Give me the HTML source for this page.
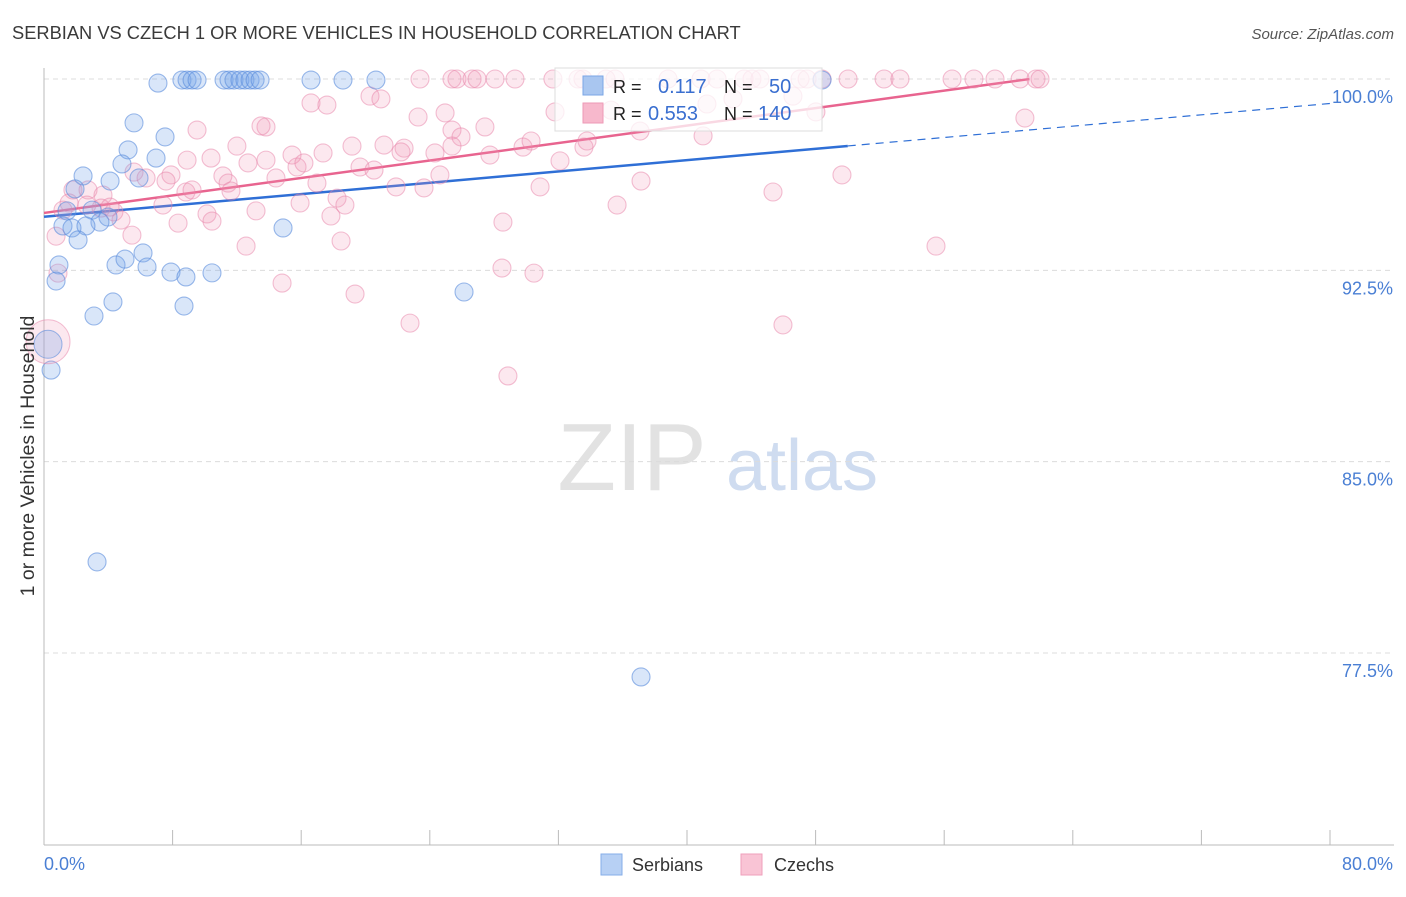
<!DOCTYPE html>
<html><head><meta charset="utf-8"><style>
body{margin:0;background:#fff;font-family:"Liberation Sans",sans-serif;}
svg text{font-family:"Liberation Sans",sans-serif;}
</style></head><body>
<svg id="chart" width="1406" height="892" xmlns="http://www.w3.org/2000/svg">
<text x="12" y="39" font-size="18.3" fill="#3a3a3a">SERBIAN VS CZECH 1 OR MORE VEHICLES IN HOUSEHOLD CORRELATION CHART</text>
<text x="1394" y="39" font-size="15" fill="#555" font-style="italic" text-anchor="end">Source: ZipAtlas.com</text>
<g>
<text x="632" y="490" font-size="96" fill="#e2e2e2" text-anchor="middle" font-family="Liberation Serif,serif">ZIP</text>
<text x="802" y="490" font-size="72" fill="#cfdcf0" text-anchor="middle">atlas</text>
</g>
<g id="grid"></g>
<g id="axes"></g>
<g id="lines"></g>
<g id="points"></g>
<text transform="translate(34,456) rotate(-90)" font-size="19.5" fill="#333" text-anchor="middle">1 or more Vehicles in Household</text>
<text x="44" y="870" font-size="18" fill="#4a7fd4">0.0%</text>
<text x="1393" y="870" font-size="18" fill="#4a7fd4" text-anchor="end">80.0%</text>
<g>
<rect x="555" y="68" width="267" height="63" fill="#fff" fill-opacity="0.75" stroke="#ddd"/>
<rect x="583" y="76" width="20" height="19" fill="#a9c6f0" stroke="#7aa6e6"/>
<rect x="583" y="103" width="20" height="20" fill="#f7b8cc" stroke="#ee99b6"/>
<text x="613" y="93" font-size="18" fill="#222">R =</text>
<text x="658" y="93" font-size="20" fill="#3a6fd0">0.117</text>
<text x="724" y="93" font-size="18" fill="#222">N =</text>
<text x="769" y="93" font-size="20" fill="#3a6fd0">50</text>
<text x="613" y="120" font-size="18" fill="#222">R =</text>
<text x="648" y="120" font-size="20" fill="#3a6fd0">0.553</text>
<text x="724" y="120" font-size="18" fill="#222">N =</text>
<text x="758" y="120" font-size="20" fill="#3a6fd0">140</text>
</g>
<g>
<rect x="601" y="854" width="21" height="21" fill="#b7d0f4" stroke="#86aee8"/>
<text x="632" y="871" font-size="18" fill="#333">Serbians</text>
<rect x="741" y="854" width="21" height="21" fill="#f9c4d5" stroke="#ef9fbb"/>
<text x="774" y="871" font-size="18" fill="#333">Czechs</text>
</g>
</svg>
<script>
const yTicks=[100,92.5,85,77.5];
const yTickLabels=["100.0%","92.5%","85.0%","77.5%"];
const xTicks=[0,10,20,30,40,50,60,70,80,90,100].map(i=>i*0.8);
const serbX=[7.09,8.58,8.90,9.21,9.52,11.2,11.51,11.82,12.19,12.5,12.82,13.13,13.44,16.61,18.6,20.65,48.4,5.6,7.53,5.23,6.97,4.85,2.43,4.11,5.91,1.93,1.43,2.99,3.98,3.48,1.18,1.74,2.61,2.12,0.93,0.75,4.48,5.04,6.16,6.41,7.9,8.83,10.45,14.87,8.71,3.11,4.29,26.13,0.44,3.3,37.14];
const serbY=[99.84,99.96,99.96,99.96,99.96,99.96,99.96,99.96,99.96,99.96,99.96,99.96,99.96,99.96,99.96,99.96,99.96,98.28,97.73,97.22,96.9,96.67,96.2,96.0,96.12,95.69,94.83,94.86,94.59,94.39,94.24,94.16,94.24,93.69,92.71,92.08,92.71,92.94,93.18,92.63,92.43,92.24,92.4,94.16,91.1,90.71,91.26,91.65,88.59,81.07,76.56];
const czX=[23.39,25.38,25.69,26.63,26.94,28.06,29.3,31.66,33.22,33.53,34.96,35.52,38.82,40.87,41.87,43.55,44.04,44.54,47.03,47.47,48.4,50.02,52.26,53.25,56.49,57.85,59.16,60.72,61.71,61.96,
16.61,17.6,20.28,20.96,23.27,24.95,25.38,25.94,27.43,31.79,35.27,41.24,42.86,46.59,48.02,61.02,9.52,13.81,13.5,12.0,10.39,8.9,12.69,15.43,17.36,19.16,21.15,22.4,22.21,24.32,25.38,27.74,29.8,30.3,32.1,33.59,33.78,37.08,41.0,
5.6,6.35,7.9,7.59,8.83,9.21,11.13,11.45,13.81,14.43,15.74,16.17,16.98,19.66,20.53,21.9,23.64,24.63,30.86,37.14,45.35,49.64,1.8,2.74,3.67,2.67,3.55,1.56,1.18,4.35,4.79,4.11,5.47,7.4,8.34,10.14,10.45,11.63,13.19,15.93,17.85,18.23,18.72,18.48,12.57,14.81,19.35,22.77,28.55,28.49,30.48,28.86,35.65,45.97,55.49,0.87,0.75];
const czY=[100,100,100,100,100,100,100,100,100,100,100,100,100,100,100,100,100,100,100,100,100,100,100,100,100,100,100,100,100,100,
99.06,98.98,99.33,99.22,98.51,98.67,98.0,97.73,98.12,98.71,98.78,99.02,99.22,99.33,98.71,98.47,98.0,98.12,98.16,97.37,96.9,96.82,96.71,97.02,97.1,97.37,97.41,97.29,97.14,97.1,97.37,97.02,97.33,97.57,96.79,97.33,97.57,97.96,97.77,
96.35,96.12,96.24,96.0,95.57,95.65,96.2,95.92,96.82,96.12,96.55,96.71,95.92,96.55,96.43,95.77,95.73,96.24,95.77,96.0,95.57,96.24,95.65,95.65,95.45,95.06,94.94,95.14,94.86,94.79,94.47,94.98,93.88,95.06,94.35,94.71,94.43,95.61,94.83,95.14,94.63,95.33,95.06,93.65,93.45,92.0,91.57,90.43,94.39,92.59,92.39,88.36,95.06,90.36,93.45,92.39,93.84];
const serbTrend=[94.6,0.0555,50.0];
const czTrend=[94.75,0.0856,61.3];
const X=v=>44+v*16.075, Y=v=>79+(100-v)*25.51;
const NS="http://www.w3.org/2000/svg";
function mk(tag,attrs,parent){const e=document.createElementNS(NS,tag);for(const k in attrs)e.setAttribute(k,attrs[k]);document.getElementById(parent).appendChild(e);return e;}
yTicks.forEach((t,i)=>{
 const g=mk('line',{x1:44,x2:1394,y1:Y(t),y2:Y(t),stroke:'#dcdcdc','stroke-dasharray':'5,4'},'grid');
 
 
 const l=mk('text',{x:1393,y:Y(t)+24,'font-size':18,fill:'#4a7fd4','text-anchor':'end'},'grid');
 l.textContent=yTickLabels[i];
 
 
});
const ax=mk('line',{x1:44,x2:44,y1:68,y2:845,stroke:'#bbb'},'axes');


const bx=mk('line',{x1:44,x2:1394,y1:845,y2:845,stroke:'#bbb'},'axes');


xTicks.forEach(t=>{const tk=mk('line',{x1:X(t),x2:X(t),y1:830,y2:845,stroke:'#bbb'},'axes');
 
 });
function trend(tr,color,name,dash){
 const s=mk('line',{x1:X(0),y1:Y(tr[0]),x2:X(tr[2]),y2:Y(tr[0]+tr[1]*tr[2]),stroke:color,'stroke-width':2.5},'lines');
 
 
 if(dash){const d=mk('line',{x1:X(tr[2]),y1:Y(tr[0]+tr[1]*tr[2]),x2:X(80),y2:Y(tr[0]+tr[1]*80),stroke:color,'stroke-width':1.2,'stroke-dasharray':'8,6'},'lines');
 
 }
}
czX.forEach((v,i)=>{const c=mk('circle',{cx:X(v),cy:Y(czY[i]),r:9,fill:'rgba(242,150,182,0.22)',stroke:'rgba(232,130,168,0.5)','stroke-width':1.1},'points');
 
 });
serbX.forEach((v,i)=>{const c=mk('circle',{cx:X(v),cy:Y(serbY[i]),r:9,fill:'rgba(120,165,232,0.28)',stroke:'rgba(90,140,220,0.6)','stroke-width':1.1},'points');
 
 });
const bigP=mk('circle',{cx:X(0.25),cy:Y(89.7),r:22,fill:'rgba(242,150,182,0.22)',stroke:'rgba(232,130,168,0.5)'},'points');


const bigB=mk('circle',{cx:X(0.25),cy:Y(89.6),r:14,fill:'rgba(120,165,232,0.28)',stroke:'rgba(90,140,220,0.6)'},'points');


trend(serbTrend,'#2f6fd6','serbian-trend-line',true);
trend(czTrend,'#e8648f','czech-trend-line',false);
</script>
</body></html>
